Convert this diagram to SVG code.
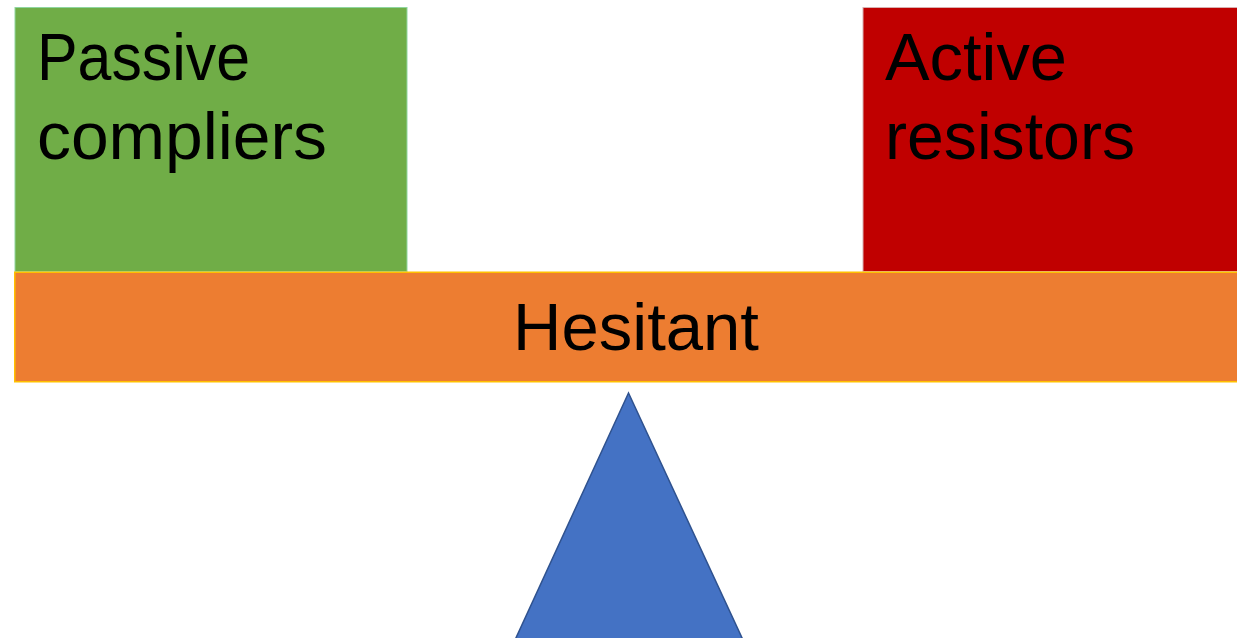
<svg xmlns="http://www.w3.org/2000/svg" width="1237" height="638" viewBox="0 0 1237 638">
  <style>
    .lbl { font-family: "Liberation Sans", Arial, sans-serif; font-size: 66px; fill: #000000; }
  </style>
  <rect x="0" y="0" width="1237" height="638" fill="#ffffff"/>
  <g id="passive">
    <rect x="15" y="7.5" width="392" height="264" fill="#70AD47" stroke="#8FD6A0" stroke-width="1"/>
    <text class="lbl" x="37" y="80" textLength="213" lengthAdjust="spacingAndGlyphs">Passive</text>
    <text class="lbl" x="37" y="159" textLength="290" lengthAdjust="spacingAndGlyphs">compliers</text>
  </g>
  <g id="active">
    <rect x="863" y="7.5" width="380" height="264" fill="#C00000" stroke="#D8B0B0" stroke-width="1"/>
    <text class="lbl" x="885" y="80" textLength="182" lengthAdjust="spacingAndGlyphs">Active</text>
    <text class="lbl" x="885" y="159" textLength="250" lengthAdjust="spacingAndGlyphs">resistors</text>
  </g>
  <g id="hesitant">
    <rect x="14.75" y="272.25" width="1230" height="109.5" fill="#ED7D31" stroke="#FFC000" stroke-width="1.5"/>
    <text class="lbl" x="513" y="350" textLength="246" lengthAdjust="spacingAndGlyphs">Hesitant</text>
  </g>
  <g id="fulcrum">
    <polygon points="628.5,393 515,640 743,640" fill="#4472C4" stroke="#2F528F" stroke-width="1.5"/>
  </g>
  <g id="connectors"></g>
</svg>
